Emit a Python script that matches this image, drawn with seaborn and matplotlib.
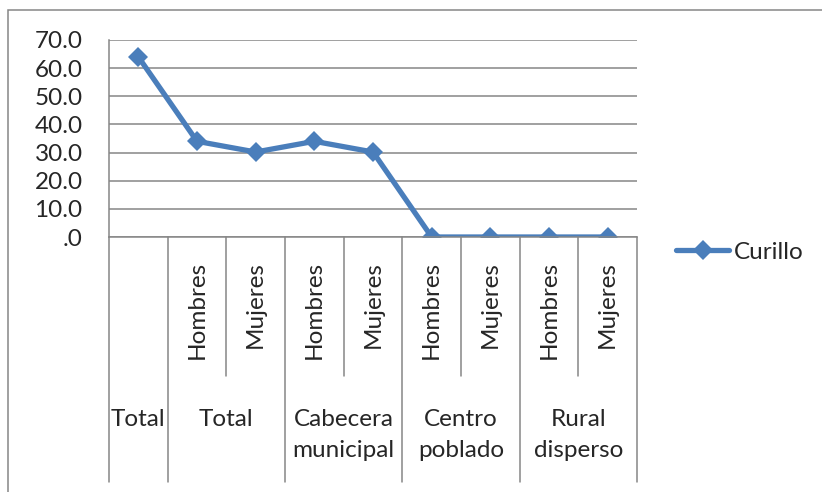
import numpy as np
import matplotlib
matplotlib.use("Agg")
import matplotlib.pyplot as plt
import matplotlib.transforms as mtransforms
from matplotlib.patches import Rectangle
import seaborn as sns

# data
series_name = "Curillo"
values = [64.0, 34.0, 30.2, 34.0, 30.2, 0.0, 0.0, 0.0, 0.0]
sub_labels = ["", "Hombres", "Mujeres", "Hombres", "Mujeres",
              "Hombres", "Mujeres", "Hombres", "Mujeres"]
group_labels = ["Total", "Total", "Cabecera\nmunicipal", "Centro\npoblado", "Rural\ndisperso"]
group_sizes = [1, 2, 2, 2, 2]
y_ticks = [0, 10, 20, 30, 40, 50, 60, 70]

sns.set_style("white")
plt.rcParams["font.family"] = ["Lato", "DejaVu Sans"]

W, H = 822, 492
fig = plt.figure(figsize=(W / 100, H / 100), dpi=100)
L, R, T, B = 109, 637, 40, 237
ax = fig.add_axes([L / W, 1 - B / H, (R - L) / W, (B - T) / H])

grey = "#868686"
blue = "#4A7EBB"
fs = 17.5

x = np.arange(len(values))
sns.lineplot(x=x, y=values, ax=ax, color=blue, linewidth=3.8,
             marker="D", markersize=10.5, markeredgewidth=0, label=series_name)

ax.set_xlim(-0.5, len(values) - 0.5)
ax.set_ylim(0, 70)
ax.set_yticks(y_ticks)
ax.set_yticklabels([".0" if v == 0 else f"{v:.1f}" for v in y_ticks], fontsize=fs)
ax.tick_params(axis="y", length=6, width=1.1, color=grey, pad=13)
ax.set_xticks([])
ax.grid(axis="y", color=grey, linewidth=1.1)
ax.set_axisbelow(True)
for s in ["top", "right"]:
    ax.spines[s].set_visible(False)
for s in ["left", "bottom"]:
    ax.spines[s].set_color(grey)
    ax.spines[s].set_linewidth(1.1)
ax.set_xlabel("")
ax.set_ylabel("")

# multi-level category axis
trans = mtransforms.blended_transform_factory(ax.transData, ax.transAxes)
h_ax = B - T
short_y = -(376 - B) / h_ax
long_y = -(482 - B) / h_ax

edges = np.cumsum([0] + group_sizes) - 0.5
for e in edges:
    ax.plot([e, e], [0, long_y], transform=trans, color=grey, lw=1.1, clip_on=False)
start = 0
for size in group_sizes:
    if size > 1:
        for k in range(1, size):
            e = start + k - 0.5
            ax.plot([e, e], [0, short_y], transform=trans, color=grey, lw=1.1, clip_on=False)
    start += size

for i, lab in enumerate(sub_labels):
    if lab:
        ax.text(i, -(261 - B) / h_ax, lab, transform=trans, rotation=90,
                ha="center", va="top", fontsize=fs)

for j, lab in enumerate(group_labels):
    cx = (edges[j] + edges[j + 1]) / 2
    ax.text(cx, -(409 - B) / h_ax, lab, transform=trans, ha="center", va="top",
            fontsize=fs, linespacing=1.6)

leg = ax.legend(loc="center left", bbox_to_anchor=((676 - L) / (R - L), -(252 - B) / h_ax),
                frameon=False, fontsize=fs, handlelength=2.2, handletextpad=0.2,
                borderpad=0, borderaxespad=0)

# outer chart border
fig.add_artist(Rectangle((8 / W, -0.1), 1.2, 1.1 - 10 / H, transform=fig.transFigure,
                         fill=False, edgecolor=grey, linewidth=1.1))

fig.savefig("out.png", dpi=100)
